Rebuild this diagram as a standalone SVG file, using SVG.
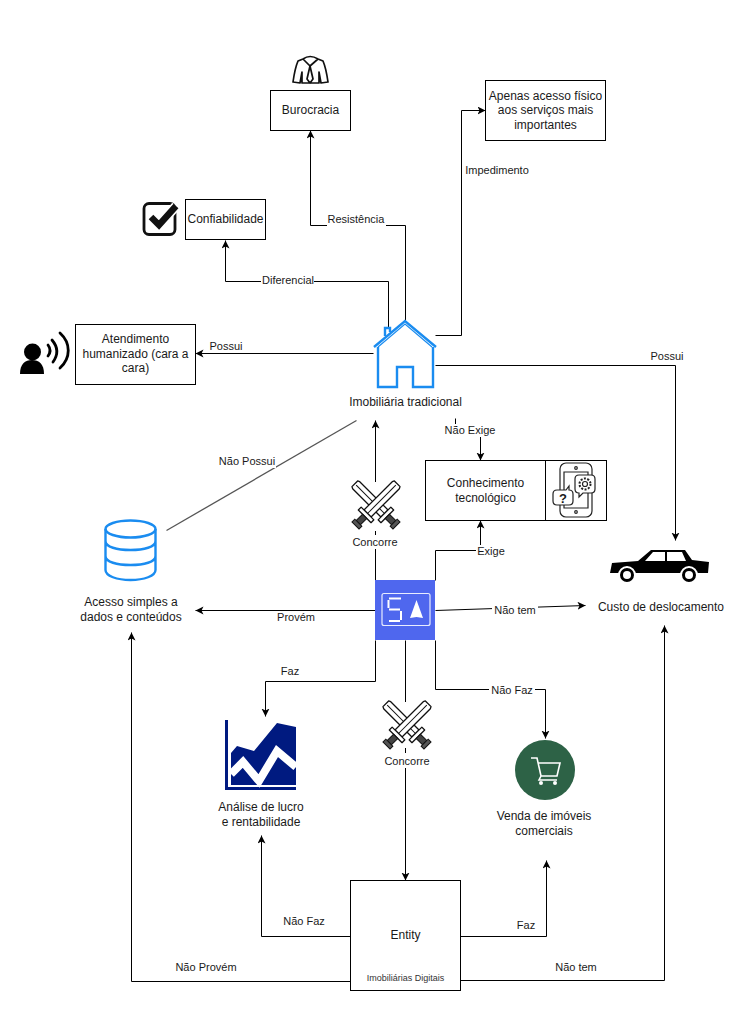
<svg xmlns="http://www.w3.org/2000/svg" width="755" height="1019" viewBox="0 0 755 1019">
<style>
text{font-family:"Liberation Sans",Arial,sans-serif;font-size:12px;fill:#1a1a1a;text-anchor:middle}
.s{font-size:11px}
.xs{font-size:9px;fill:#333}
.box{fill:#fff;stroke:#000;stroke-width:1}
.c{fill:none;stroke:#000;stroke-width:1;marker-end:url(#a)}
.lb{fill:#fff;stroke:none}
.blue{fill:none;stroke:#1a8cf0;stroke-width:2.4}
.sw{fill:#fff;stroke:#111;stroke-width:1.3;stroke-linejoin:round}
</style>
<defs>
<marker id="a" markerUnits="userSpaceOnUse" markerWidth="10" markerHeight="10" refX="8" refY="4" orient="auto"><path d="M0 0L8 4L0 8L2 4Z" fill="#000"/></marker>
<g id="sword">
<path class="sw" d="M-4 -30H4L5 -28V12H-5V-28Z"/>
<path d="M0 -28V12" stroke="#111" stroke-width="1"/>
<path class="sw" d="M-9 12H9V16H-9Z"/>
<path d="M-3 16H3V25H-3Z" fill="#444" stroke="#111" stroke-width="1"/>
<path d="M-5 25H5V29H-5Z" fill="#555" stroke="#111" stroke-width="1"/>
</g>
<g id="swords">
<use href="#sword" transform="rotate(-45)"/>
<use href="#sword" transform="rotate(45)"/>
</g>
</defs>
<rect width="755" height="1019" fill="#fff"/>
<g id="connectors" transform="translate(.5 .5)">
<path class="c" d="M405 320V225H310V130"/>
<path class="c" d="M388 328V281H225V240"/>
<path class="c" d="M435 335H461V110H485"/>
<path class="c" d="M373 353H195"/>
<path class="c" d="M435 365H675V540"/>
<path class="c" d="M455 418V434H480V460"/>
<path d="M356 420L166 530" fill="none" stroke="#555" stroke-width="1.3"/>
<path class="c" d="M375 580V420"/>
<path class="c" d="M435 580V550H480V520"/>
<path class="c" d="M375 610H195"/>
<path class="c" d="M435 610L585 605"/>
<path class="c" d="M375 640V681H265V716"/>
<path class="c" d="M405 640V880"/>
<path class="c" d="M435 640V689H545V738"/>
<path class="c" d="M350 936H261V835"/>
<path class="c" d="M460 936H546V860"/>
<path class="c" d="M350 981H131V632"/>
<path class="c" d="M460 980H664V625"/>
</g>
<g id="connector-labels">
<rect class="lb" x="327" y="213" width="59" height="14"/><text class="s" x="356" y="223">Resistência</text>
<rect class="lb" x="261" y="274" width="53" height="13"/><text class="s" x="288" y="284">Diferencial</text>
<rect class="lb" x="463" y="164" width="66" height="14"/><text class="s" x="497" y="174">Impedimento</text>
<text class="s" x="226" y="350">Possui</text>
<text class="s" x="667" y="360">Possui</text>
<rect class="lb" x="445" y="424" width="52" height="13"/><text class="s" x="470" y="434">Não Exige</text>
<rect class="lb" x="218" y="455" width="58" height="13"/><text class="s" x="247" y="465">Não Possui</text>
<rect class="lb" x="476" y="545" width="30" height="13"/><text class="s" x="491" y="555">Exige</text>
<text class="s" x="296" y="621">Provém</text>
<rect class="lb" x="492" y="604" width="46" height="13"/><text class="s" x="515" y="614">Não tem</text>
<text class="s" x="290" y="675">Faz</text>
<rect class="lb" x="489" y="684" width="46" height="13"/><text class="s" x="512" y="694">Não Faz</text>
<text class="s" x="304" y="925">Não Faz</text>
<text class="s" x="526" y="929">Faz</text>
<text class="s" x="206" y="971">Não Provém</text>
<text class="s" x="576" y="971">Não tem</text>
</g>
<g id="burocracia">
<rect class="box" x="270.500" y="90.500" width="80" height="40"/><text x="310.500" y="114">Burocracia</text>
<path d="M303 59Q310 54 318 59L323 61Q326 68 328 82L321 83L319 72V83H302V72L300 83L293 82Q295 68 298 61ZM303 59L310 66L318 59M310 66L307 79L310 83L313 79Z" fill="#fff" stroke="#111" stroke-width="1.700" stroke-linejoin="round"/>
</g>
<g id="apenas">
<rect class="box" x="485.500" y="80.500" width="120" height="60"/>
<text x="545.500" y="100">Apenas acesso físico</text><text x="545.500" y="114">aos serviços mais</text><text x="545.500" y="129">importantes</text>
</g>
<g id="confiabilidade">
<rect class="box" x="185.500" y="199.500" width="80" height="40"/><text x="225.500" y="223">Confiabilidade</text>
<rect x="144" y="203.500" width="31" height="31" rx="5" fill="none" stroke="#111" stroke-width="2.800"/>
<path d="M151 217L159 225L176 206" fill="none" stroke="#fff" stroke-width="10"/>
<path d="M151 217L159 225L176 206" fill="none" stroke="#111" stroke-width="6.500"/>
</g>
<g id="atendimento">
<rect class="box" x="75.500" y="324.500" width="120" height="60"/>
<text x="135.500" y="343">Atendimento</text><text x="135.500" y="358">humanizado (cara a</text><text x="135.500" y="372">cara)</text>
<circle cx="32.500" cy="352" r="8.500" fill="#000"/>
<path d="M20 374C20 364 25 360 32 360C39 360 44 364 44 374Z" fill="#000"/>
<path d="M48 345C51 349 51 352 48 356M52 340C58 347 58 355 53 362M60 333C71 343 71 358 60 368" fill="none" stroke="#000" stroke-width="2.800" stroke-linecap="round"/>
</g>
<g id="imobiliaria-tradicional">
<path d="M374 347L405 321L436 347" fill="none" stroke="#1a8cf0" stroke-width="2.400"/>
<path d="M378 347L405 324L432 347" fill="none" stroke="#1a8cf0" stroke-width="1.200"/>
<path class="blue" d="M378 347V387H397V367H413V387H433V347M385 336V328H390V332"/>
<text x="405.500" y="406">Imobiliária tradicional</text>
</g>
<g id="conhecimento">
<rect class="box" x="425.500" y="460.500" width="181" height="60"/>
<path d="M545.500 460.500V520.500" stroke="#000"/>
<text x="485.500" y="487">Conhecimento</text><text x="485.500" y="502">tecnológico</text>
<g fill="#fff" stroke="#222" stroke-width="1.200">
<rect x="560" y="463" width="32" height="54" rx="6"/>
<path d="M564 472H588V508H564Z" fill="none"/>
<path d="M579 475H591Q595 475 595 479V489Q595 493 591 493H583L579 497V493Q575 493 575 489V479Q575 475 579 475Z"/>
<path d="M557 490H566L569 486V490Q573 490 573 494V501Q573 505 569 505H557Q553 505 553 501V494Q553 490 557 490Z"/>
<circle cx="585" cy="484" r="5.500" stroke-width="2" stroke-dasharray="2 1.450"/>
<circle cx="585" cy="484" r="2.500"/>
<circle cx="576" cy="468" r="1.300"/><circle cx="576" cy="512" r="1.300"/>
</g>
<text x="563" y="503" style="font-size:13px;font-weight:bold">?</text>
</g>
<g id="concorre-top">
<rect class="lb" x="353" y="482" width="46" height="49"/>
<use href="#swords" transform="translate(376 505)"/>
<rect class="lb" x="350" y="535" width="50" height="14"/>
<text class="s" x="375" y="546">Concorre</text>
</g>
<g id="acesso">
<g fill="none" stroke="#1a8cf0" stroke-width="2.400">
<ellipse cx="130.500" cy="529" rx="25" ry="8.500"/>
<path d="M105.500 529V570C105.500 576 117 580 130.500 580C144 580 155.500 576 155.500 570V529M105.500 541C105.500 547 117 550 130.500 550C144 550 155.500 547 155.500 541M105.500 556C105.500 562 117 565 130.500 565C144 565 155.500 562 155.500 556"/>
</g>
<text x="131" y="606">Acesso simples a</text><text x="131" y="621">dados e conteúdos</text>
</g>
<g id="sa">
<rect x="375" y="580" width="60" height="60" fill="#4f67ee"/>
<rect x="382" y="593.500" width="48" height="32" rx="2" fill="none" stroke="#e8ecff" stroke-width="1.200"/>
<path d="M389 598.500H401M388.500 600V608M389 609.500H400M401 611V620M389 621H400" fill="none" stroke="#fff" stroke-width="2"/>
<path d="M416.500 600L423 618L416.500 617L410 618Z" fill="#fff"/>
</g>
<g id="custo">
<path d="M610 573L612 563L638 561L651 550H685L692 560L709 562L708 573Z" fill="#000"/>
<path d="M645 561L653 552H665V561ZM667 552H682L686 561H667Z" fill="#fff"/>
<circle cx="627" cy="575" r="8" fill="#000" stroke="#fff" stroke-width="2"/><circle cx="627" cy="575" r="4" fill="#fff"/>
<circle cx="689" cy="575" r="8" fill="#000" stroke="#fff" stroke-width="2"/><circle cx="689" cy="575" r="4" fill="#fff"/>
<text x="661" y="611">Custo de deslocamento</text>
</g>
<g id="analise">
<path d="M225 720H228V787H296V790H225Z" fill="#001a80"/>
<path d="M231 753L237 746L254 751L277 723L296 727V785H231Z" fill="#001a80"/>
<path d="M231 774L243 762L259 781L277 751L296 767" fill="none" stroke="#fff" stroke-width="8"/>
<text x="261" y="811">Análise de lucro</text><text x="261" y="826">e rentabilidade</text>
</g>
<g id="concorre-bottom">
<rect class="lb" x="384" y="702" width="46" height="46"/>
<use href="#swords" transform="translate(407 725)"/>
<rect class="lb" x="382" y="753" width="50" height="15"/>
<text class="s" x="407" y="765">Concorre</text>
</g>
<g id="venda">
<circle cx="545" cy="770" r="30" fill="#2d6246"/>
<path d="M531 758H537L541 776H557L560 763H538M541 776L539 780H557" fill="none" stroke="#fff" stroke-width="1.600"/>
<circle cx="541" cy="783" r="2" fill="#fff"/><circle cx="555" cy="783" r="2" fill="#fff"/>
<text x="544" y="820">Venda de imóveis</text><text x="544" y="835">comerciais</text>
</g>
<g id="entity">
<rect class="box" x="350.500" y="880.500" width="110" height="110"/>
<text x="405.500" y="939">Entity</text>
<text class="xs" x="405.500" y="981">Imobiliárias Digitais</text>
</g>
</svg>
